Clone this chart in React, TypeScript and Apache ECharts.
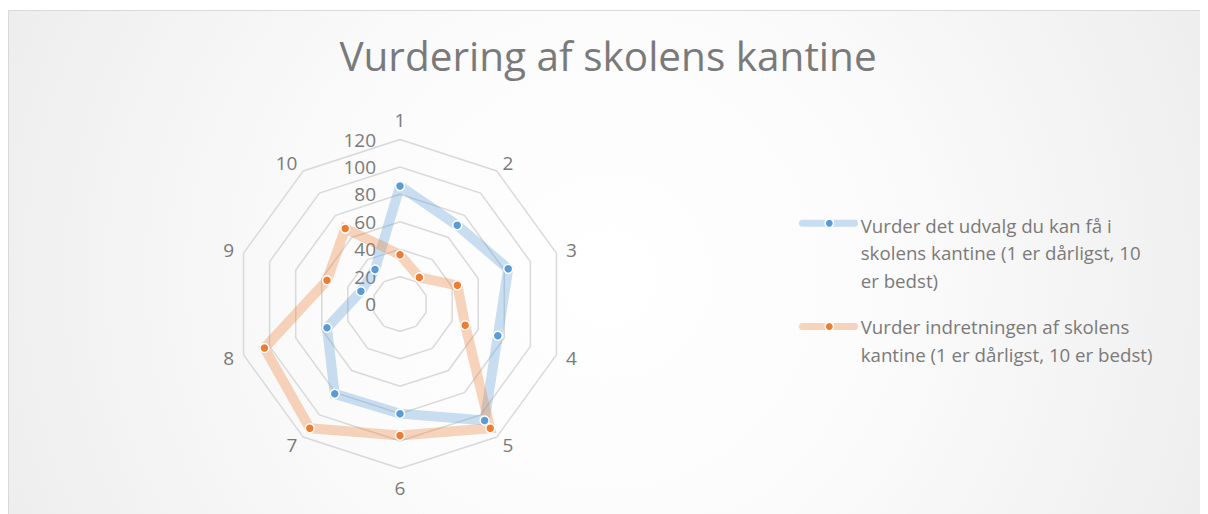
import React, { useEffect, useRef } from "react";
import * as echarts from "echarts";

const titleText = "Vurdering af skolens kantine";
const indicatorNames = ["1", "2", "3", "4", "5", "6", "7", "8", "9", "10"];
const seriesNames = [
  "Vurder det udvalg du kan få i skolens kantine (1 er dårligst, 10 er bedst)",
  "Vurder indretningen af skolens kantine (1 er dårligst, 10 er bedst)",
];
const udvalgValues = [86, 71, 83, 75, 105, 80, 81, 56, 30, 31];
const indretningValues = [36, 24, 44, 50, 112, 96, 112, 104, 56, 68];
const axisMin = 0;
const axisMax = 120;
const axisSplits = 6;

const lineColors = ["rgba(91,155,213,0.32)", "rgba(237,125,49,0.32)"];
const dotColors = ["#5B9BD5", "#ED7D31"];
const FONT = "Open Sans";
const TEXT = "#7a7a7a";

// ECharts lays out radar indicators counter-clockwise; reference is clockwise.
const order = [0, 9, 8, 7, 6, 5, 4, 3, 2, 1];

function wrap(text: string, maxChars: number): string {
  const words = text.split(" ");
  const lines: string[] = [];
  let cur = "";
  for (const w of words) {
    const cand = cur ? cur + " " + w : w;
    if (cand.length > maxChars && cur) {
      lines.push(cur);
      cur = w;
    } else cur = cand;
  }
  if (cur) lines.push(cur);
  return lines.join("\n");
}

export default function App() {
  const ref = useRef<HTMLDivElement>(null);
  useEffect(() => {
    if (!ref.current) return;
    const chart = echarts.init(ref.current, undefined, { renderer: "svg" });
    const allValues = [udvalgValues, indretningValues];
    const legendTops = [203.5, 305];
    const legendIconY = [215.3, 318.5];
    const graphics: any[] = [
      {
        type: "rect",
        z: -10,
        silent: true,
        shape: { x: 0.5, y: 2.5, width: 1400, height: 700 },
        style: {
          fill: {
            type: "radial",
            x: 600,
            y: 270,
            r: 720,
            global: true,
            colorStops: [
              { offset: 0, color: "#ffffff" },
              { offset: 0.4, color: "#fbfbfb" },
              { offset: 1, color: "#ebebeb" },
            ],
          },
          stroke: "#d9d9d9",
          lineWidth: 1,
        },
      },
    ];
    seriesNames.forEach((name, i) => {
      graphics.push(
        {
          type: "rect",
          shape: { x: 791, y: legendIconY[i] - 3.5, width: 59, height: 7, r: 3.5 },
          style: { fill: lineColors[i] },
        },
        {
          type: "circle",
          shape: { cx: 821.3, cy: legendIconY[i], r: 4.2 },
          style: { fill: dotColors[i], stroke: "#ffffff", lineWidth: 1.5 },
        },
        {
          type: "text",
          x: 852.7,
          y: legendTops[i],
          style: {
            text: wrap(name, 36),
            fill: TEXT,
            fontFamily: FONT,
            fontSize: 18.7,
            lineHeight: 27.5,
            verticalAlign: "top",
            align: "left",
          },
        }
      );
    });

    chart.setOption({
      animation: false,
      title: {
        text: titleText,
        left: "center",
        top: 27,
        padding: [0, 0, 0, 7],
        textStyle: { fontFamily: FONT, fontSize: 40.5, fontWeight: "normal", color: TEXT },
      },
      graphic: graphics,
      radar: {
        center: [392, 296],
        radius: 164.5,
        startAngle: 90,
        shape: "polygon",
        splitNumber: axisSplits,
        nameGap: 10,
        axisName: { color: TEXT, fontFamily: FONT, fontSize: 19 },
        indicator: order.map((k, j) => ({
          name: indicatorNames[k],
          min: axisMin,
          max: axisMax,
          ...(j === 0
            ? {
                axisLabel: {
                  show: true,
                  color: TEXT,
                  fontFamily: FONT,
                  fontSize: 19,
                  margin: 24,
                },
              }
            : {}),
        })),
        axisLine: { show: false },
        axisTick: { show: false },
        axisLabel: { show: false },
        splitArea: { show: false },
        splitLine: { lineStyle: { color: "#d9d9d9", width: 1.5 } },
      },
      series: seriesNames.map((name, i) => ({
        type: "radar",
        name,
        symbol: "circle",
        symbolSize: 9,
        lineStyle: { color: lineColors[i], width: 10, join: "miter" },
        itemStyle: { color: dotColors[i], borderColor: "#ffffff", borderWidth: 1.5 },
        data: [{ name, value: order.map((k) => allValues[i][k]) }],
      })),
    });
    return () => chart.dispose();
  }, []);
  return <div ref={ref} style={{ width: 1200, height: 506 }} />;
}
